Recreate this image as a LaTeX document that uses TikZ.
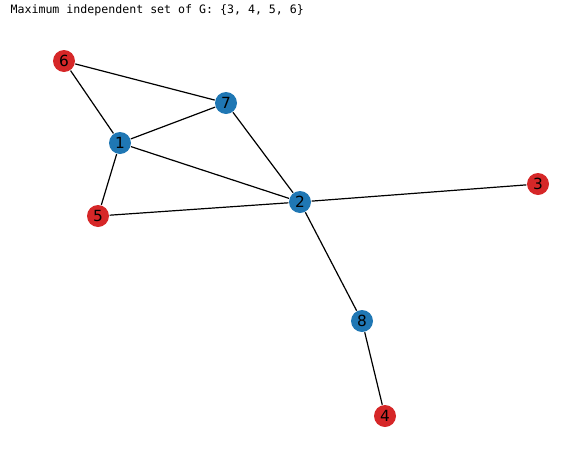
\documentclass[tikz,border=0pt]{standalone}
\usepackage{fontspec}
\setmainfont{DejaVu Sans}
\newfontfamily\monofont{DejaVu Sans Mono}
\definecolor{MISRed}{HTML}{D62728}
\definecolor{MISBlue}{HTML}{1F77B4}

\begin{document}
\begin{tikzpicture}[x=0.75pt,y=-0.75pt,line width=0.9pt,
  vert/.style={circle,inner sep=0pt,minimum size=16.5pt,font=\fontsize{11.5}{11.5}\selectfont},
  inset/.style={vert,fill=MISRed},
  outset/.style={vert,fill=MISBlue}]
\useasboundingbox (0,0) rectangle (561,454);
\node[anchor=base west,inner sep=0pt,font=\monofont\fontsize{8.7}{8.7}\selectfont] (title) at (10,13) {Maximum independent set of G: \{3, 4, 5, 6\}};
\node[inset] (n6) at (64,61) {6};
\node[outset] (n7) at (226,103) {7};
\node[outset] (n1) at (120,143) {1};
\node[inset] (n5) at (98,216) {5};
\node[outset] (n2) at (300,202) {2};
\node[inset] (n3) at (538,184) {3};
\node[outset] (n8) at (362,321) {8};
\node[inset] (n4) at (385,416) {4};
% edges
\draw (n6) -- (n7) (n6) -- (n1) (n1) -- (n7) (n1) -- (n5) (n1) -- (n2);
\draw (n7) -- (n2) (n5) -- (n2) (n2) -- (n3) (n2) -- (n8) (n8) -- (n4);
\end{tikzpicture}
\end{document}
